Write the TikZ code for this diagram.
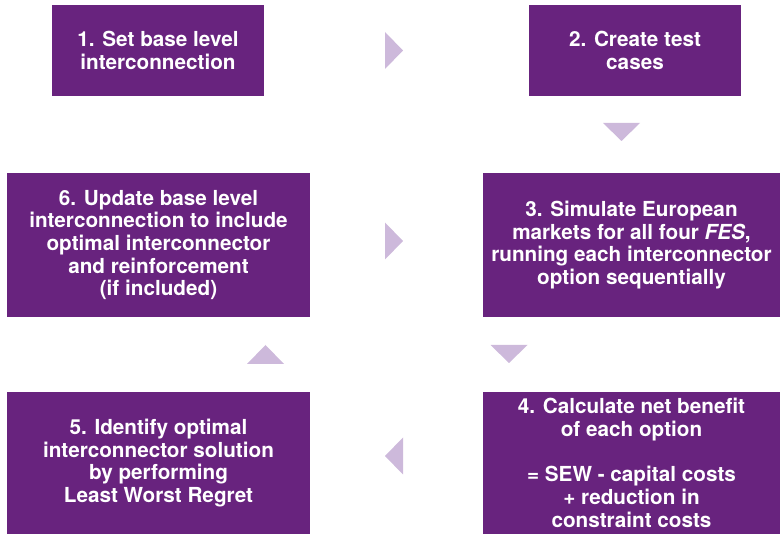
\documentclass[tikz,border=0pt]{standalone}
\usepackage{fontspec}
\setmainfont{TeX Gyre Heros}
\definecolor{boxpurple}{HTML}{68237E}
\definecolor{tripurple}{HTML}{CDB9DB}
\begin{document}
\begin{tikzpicture}[x=1pt,y=-1pt,
  box/.style={fill=boxpurple, draw=none, text=white, align=center, inner sep=0pt,
    font=\bfseries\fontsize{20.7}{22.7}\selectfont},
  tri/.style={fill=tripurple, draw=none}]
\useasboundingbox (0,0) rectangle (780,534);
\node[box, minimum width=212pt, minimum height=91pt] (b1) at (158,50.5) {1. Set base level\\interconnection};
\node[box, minimum width=212pt, minimum height=91pt] (b2) at (635,50.5) {2. Create test\\cases};
\node[box, minimum width=297pt, minimum height=144pt] (b3) at (631.5,245) {3. Simulate European\\markets for all four \textit{FES},\\running each interconnector\\option sequentially};
\node[box, minimum width=297pt, minimum height=142pt] (b4) at (631.5,463) {4. Calculate net benefit\\of each option\\[22.7pt]= SEW - capital costs\\+ reduction in\\constraint costs};
\node[box, minimum width=303pt, minimum height=142pt] (b5) at (158.5,463) {5. Identify optimal\\interconnector solution\\by performing\\Least Worst Regret};
\node[box, minimum width=303pt, minimum height=144pt] (b6) at (158.5,245) {6. Update base level\\interconnection to include\\optimal interconnector\\and reinforcement\\(if included)};
% arrowhead markers between steps
\coordinate (t1) at (403,50.5);
\coordinate (t2) at (621.5,141);
\coordinate (t3) at (403,241);
\coordinate (t4) at (509,363);
\coordinate (t5) at (265.5,345);
\coordinate (t6) at (385,456);
\fill[tri] (t1) -- ++(-18,-18.5) -- ++(0,37) -- cycle;
\fill[tri] (t2) -- ++(-18.5,-18) -- ++(37,0) -- cycle;
\fill[tri] (t3) -- ++(-18,-18.5) -- ++(0,37) -- cycle;
\fill[tri] (t4) -- ++(-18.5,-18) -- ++(37,0) -- cycle;
\fill[tri] (t5) -- ++(-18.5,19) -- ++(37,0) -- cycle;
\fill[tri] (t6) -- ++(18,-18.5) -- ++(0,37) -- cycle;
\end{tikzpicture}
\end{document}
